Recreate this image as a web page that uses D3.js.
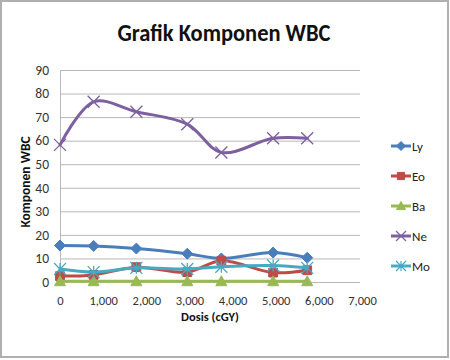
<!DOCTYPE html>
<html><head><meta charset="utf-8">
<script src="https://cdn.jsdelivr.net/npm/d3@7"></script>
<style>body{margin:0;background:#fff;}svg{display:block;}</style>
</head><body>
<svg id="c" width="450" height="360"></svg>
<script>
const doses = [0, 780, 1770, 2950, 3740, 4940, 5730];
const seriesNames = ["Ly", "Eo", "Ba", "Ne", "Mo"];
const lyValues = [15.5, 15.3, 14.2, 12, 10, 12.5, 10.3];
const eoValues = [2.5, 3, 6.3, 4.2, 9, 4, 5];
const baValues = [0.3, 0.3, 0.3, 0.3, 0.3, 0.3, 0.3];
const neValues = [58.2, 76.5, 72.3, 67, 55, 61, 61];
const moValues = [5.5, 4.2, 6, 5.5, 6.5, 7, 6];
const xTicks = [0, 1000, 2000, 3000, 4000, 5000, 6000, 7000];
const yTicks = [0, 10, 20, 30, 40, 50, 60, 70, 80, 90];
const colors = ["#4A7EBB", "#BE4B48", "#98B954", "#7D60A0", "#46AAC5"];
const markers = ["diamond", "square", "triangle", "x", "star"];
const allValues = [lyValues, eoValues, baValues, neValues, moValues];

const svg = d3.select("#c");
svg.append("rect").attr("x",1).attr("y",1).attr("width",447).attr("height",356)
  .attr("fill","#fff").attr("stroke","#b0b0b0").attr("stroke-width",2);

const x = d3.scaleLinear().domain([0,7000]).range([60,362]);
const y = d3.scaleLinear().domain([0,90]).range([282,70]);

// gridlines
svg.append("g").selectAll("line").data(yTicks).join("line")
  .attr("x1",60).attr("x2",360).attr("y1",d=>y(d)+0.5).attr("y2",d=>y(d)+0.5)
  .attr("stroke","#b8b8b8").attr("stroke-width",1);
svg.append("line").attr("x1",60.5).attr("x2",60.5).attr("y1",70).attr("y2",282)
  .attr("stroke","#b8b8b8");

const fontF = "Calibri, Carlito, 'Open Sans', 'Liberation Sans', sans-serif";
// y axis
const yAxis = d3.axisLeft(y).tickValues(yTicks).tickSize(0).tickPadding(0);
const gy = svg.append("g").attr("transform","translate(49,0)").call(yAxis);
gy.select(".domain").remove();
gy.selectAll("text").attr("font-family",fontF).attr("font-size",13.5).attr("fill","#333");
// x axis
const xAxis = d3.axisBottom(x).tickValues(xTicks).tickSize(0).tickPadding(0)
  .tickFormat(d3.format(","));
const gx = svg.append("g").attr("transform","translate(0,296)").call(xAxis);
gx.select(".domain").remove();
gx.selectAll("text").attr("font-family",fontF).attr("font-size",12.5).attr("fill","#333");

// titles
const title = svg.append("text").attr("x",224).attr("y",41).attr("text-anchor","middle")
  .attr("font-family",fontF).attr("font-weight","bold").attr("font-size",25).attr("fill","#111")
  .text("Grafik Komponen WBC");
function fit(t, w){ const l=t.node().getComputedTextLength(); if(l>w) t.attr("textLength",w).attr("lengthAdjust","spacingAndGlyphs"); }
fit(title, 213);
const xt = svg.append("text").attr("x",210).attr("y",321).attr("text-anchor","middle")
  .attr("font-family",fontF).attr("font-weight","bold").attr("font-size",12.5).attr("fill","#111")
  .text("Dosis (cGY)");
fit(xt, 60);
const yt = svg.append("text").attr("transform","translate(30,182) rotate(-90)").attr("text-anchor","middle")
  .attr("font-family",fontF).attr("font-weight","bold").attr("font-size",13.5).attr("fill","#111")
  .text("Komponen WBC");
fit(yt, 100);

function markerPath(type, s){
  switch(type){
    case "diamond": return `M0,${-s}L${s},0L0,${s}L${-s},0Z`;
    case "square": return `M${-s*0.8},${-s*0.8}h${s*1.6}v${s*1.6}h${-s*1.6}Z`;
    case "triangle": return `M0,${-s}L${s},${s*0.8}L${-s},${s*0.8}Z`;
    case "x": return `M${-s},${-s}L${s},${s}M${-s},${s}L${s},${-s}`;
    case "star": return `M${-s},${-s}L${s},${s}M${-s},${s}L${s},${-s}M0,${-s}L0,${s}`;
  }
}
const line = d3.line().x(d=>x(d[0])).y(d=>y(d[1])).curve(d3.curveCatmullRom.alpha(0.5));
[0,1,2,3,4].forEach(i=>{
  const pts = doses.map((d,j)=>[d, allValues[i][j]]);
  const g = svg.append("g");
  g.append("path").attr("d", line(pts)).attr("fill","none").attr("stroke",colors[i])
    .attr("stroke-width",3).attr("stroke-linejoin","round").attr("stroke-linecap","round");
  const open = markers[i]==="x"||markers[i]==="star";
  g.selectAll("path.m").data(pts).join("path").attr("class","m")
    .attr("transform",d=>`translate(${x(d[0])},${y(d[1])})`)
    .attr("d", markerPath(markers[i], open?6:5.5))
    .attr("fill", open?"none":colors[i])
    .attr("stroke", colors[i]).attr("stroke-width", open?1.3:1);
});

// legend
const legY = [146,176,206,236,266];
seriesNames.forEach((n,i)=>{
  const g = svg.append("g").attr("transform",`translate(0,${legY[i]})`);
  g.append("line").attr("x1",391).attr("x2",411).attr("y1",0).attr("y2",0)
    .attr("stroke",colors[i]).attr("stroke-width",3);
  const open = markers[i]==="x"||markers[i]==="star";
  g.append("path").attr("transform","translate(401,0)").attr("d", markerPath(markers[i], open?5:4.5))
    .attr("fill", open?"none":colors[i]).attr("stroke",colors[i]).attr("stroke-width",open?1.2:1);
  g.append("text").attr("x",412).attr("y",5).attr("font-family",fontF).attr("font-size",13)
    .attr("fill","#222").text(n);
});
</script>
</body></html>
